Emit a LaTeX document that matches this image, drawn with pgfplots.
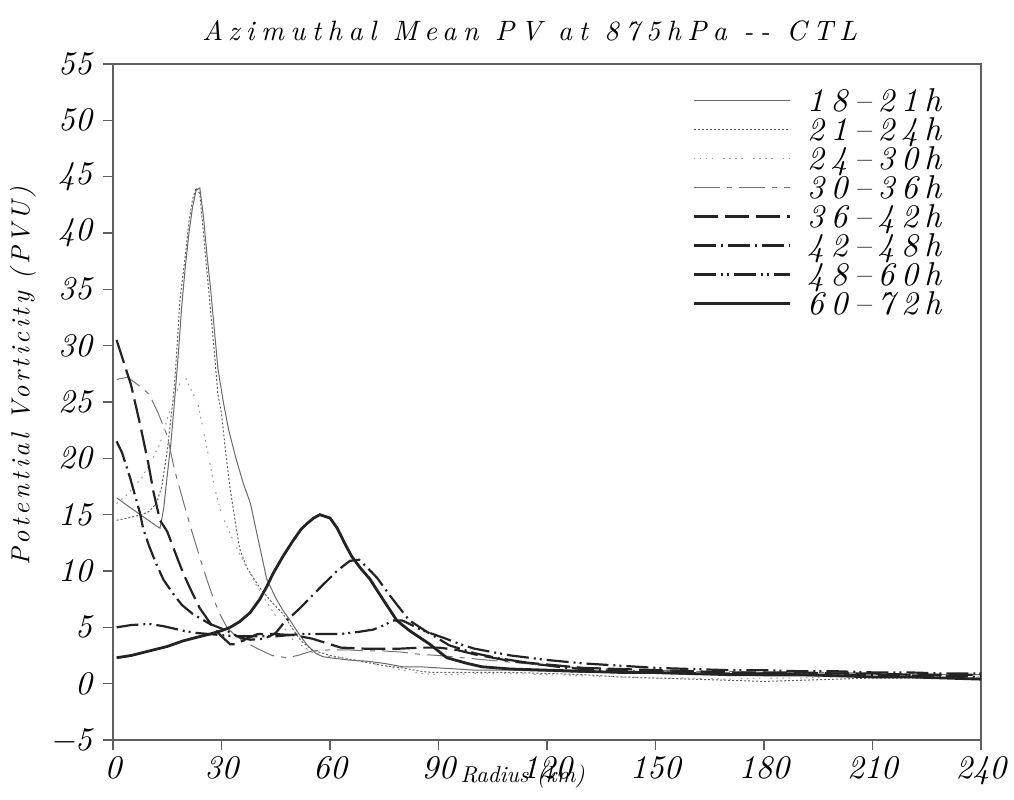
\documentclass[border=0pt]{standalone}
\usepackage{fontspec}
\usepackage{pgfplots}
\pgfplotsset{compat=1.18}
\newfontfamily\tfont{lmroman10-italic.otf}[LetterSpace=23]
\newfontfamily\yfont{lmroman10-italic.otf}[LetterSpace=14]
\newfontfamily\lfont{lmroman10-italic.otf}[LetterSpace=20]
\newfontfamily\nfont{lmroman10-italic.otf}
\definecolor{axgray}{RGB}{95,95,95}
\definecolor{cA}{RGB}{105,105,105}
\definecolor{cB}{RGB}{95,95,95}
\definecolor{cC}{RGB}{150,150,150}
\definecolor{cD}{RGB}{115,115,115}
\definecolor{cE}{RGB}{35,35,35}
\begin{document}
\begin{tikzpicture}
\begin{axis}[
  scale only axis, width=434pt, height=338pt,
  xmin=0, xmax=240, ymin=-5, ymax=55,
  xtick={0,30,...,240}, ytick={-5,0,...,55},
  yticklabels={−5,0,5,10,15,20,25,30,35,40,45,50,55},
  xtick pos=left, ytick pos=left,
  tick align=outside, major tick length=5pt,
  axis line style={axgray, line width=0.8pt},
  every tick/.style={axgray, line width=0.8pt},
  /pgf/number format/assume math mode=true,
  tick label style={font=\fontsize{16.5}{17}\selectfont\nfont},
  xticklabel style={yshift=0.5pt},
  yticklabel style={xshift=-2pt},
  title={Azimuthal Mean PV at 875hPa -{}- CTL},
  title style={font=\fontsize{14}{16}\selectfont\tfont, at={(axis description cs:0.48,1.032)}, anchor=center},
  xlabel={Radius (km)},
  xlabel style={font=\fontsize{11.5}{13}\selectfont\nfont, at={(axis description cs:0.472,-0.055)}, anchor=center},
  ylabel={Potential Vorticity (PVU)},
  ylabel style={font=\fontsize{13}{15}\selectfont\yfont, at={(axis description cs:-0.1037,0.538)}, anchor=center},
  legend image code/.code={\draw[#1] (0pt,0.5pt) -- (48pt,0.5pt);},
  legend style={draw=none, fill=none, inner sep=0pt, at={(axis description cs:0.667,0.963)}, anchor=north west,
    font=\fontsize{16.5}{17}\selectfont\lfont, row sep=2.5pt, column sep=8pt,
    nodes={inner sep=0pt, text height=11pt, text depth=1pt}},
  legend cell align=left,
]
\addplot[cA, line width=0.5pt] coordinates {
(1,16.5)(4,15.8)(8,14.9)(12,14.0)(13,13.8)(14,15.5)(15,18.5)(16,21.3)(17,25)(18,29)(19,33.5)(20,37)(21,40)(22,42.3)(23,43.8)(24,44)(25,41.5)(26,38)(27,35)(28,31.5)(29,28)(30.5,25)(32,22.5)(34,20)(36,17.8)(38,16)(40,13)(42.5,9.3)(45,7.6)(47,6.5)(49,5.6)(51,4.6)(53.5,3.5)(56,2.7)(58,2.4)(60,2.3)(65,2.1)(70,2.0)(75,1.8)(80,1.5)(85,1.5)(90,1.4)(95,1.3)(100,1.2)(110,1.2)(120,1.1)(130,1.0)(140,1.0)(150,0.9)(160,0.8)(170,0.8)(180,0.7)(190,0.7)(200,0.7)(210,0.6)(220,0.6)(230,0.5)(240,0.4)
};
\addlegendentry{18–21h}
\addplot[cB, line width=0.5pt, dash pattern=on 1pt off 1pt] coordinates {
(1,14.5)(4,14.7)(8,15)(10,15.3)(12,16)(13.5,17.5)(15,20.7)(16,23.5)(17,26.5)(18.5,34)(20,38)(21,41)(22,43)(23,44)(24,43.5)(25,40)(26,36.5)(27,33)(28,29.5)(29,25.7)(30,24)(31.2,20.4)(32.3,17.5)(33.5,15)(35,12)(37,10.3)(40.6,8.5)(44,7.2)(47,6.2)(50,4.7)(52,3.8)(55,3)(60,2.5)(65,2.2)(70,1.9)(75,1.6)(80,1.4)(85,1.1)(88,1.0)(95,1.0)(100,1.0)(110,1.0)(120,0.9)(130,0.8)(140,0.6)(150,0.5)(160,0.4)(170,0.3)(180,0.2)(190,0.3)(200,0.4)(210,0.5)(220,0.5)(230,0.5)(240,0.5)
};
\addlegendentry{21–24h}
\addplot[cC, line width=0.5pt, dash pattern=on 0.8pt off 2.2pt on 0.8pt off 2.2pt on 0.8pt off 2.2pt on 0.8pt off 5pt] coordinates {
(1,16)(4,16.8)(8,18.3)(11,20)(13,21.3)(15,23.5)(17,25.5)(19,27)(20,27.2)(21,26.5)(23.5,24.8)(26.3,20.4)(28,17.5)(30,15.1)(32.4,13.3)(35,11.5)(37,10.3)(40,8.5)(43,7)(46,5.5)(50,3.8)(55,2.8)(60,2.4)(65,2.2)(70,1.9)(75,1.6)(80,1.2)(85,0.9)(90,0.8)(95,0.8)(100,0.9)(110,0.9)(120,0.8)(130,0.7)(140,0.6)(150,0.5)(160,0.5)(170,0.4)(180,0.5)(190,0.5)(200,0.6)(210,0.6)(220,0.6)(230,0.6)(240,0.6)
};
\addlegendentry{24–30h}
\addplot[cD, line width=0.5pt, dash pattern=on 13pt off 3.5pt on 2.5pt off 3.5pt] coordinates {
(1,27)(4,27.2)(7,26.5)(10,25.7)(12.5,24)(15,22)(17,19)(19.4,16.2)(22,13.3)(24,11.2)(26,9.2)(27.7,7.6)(29.5,6.2)(31.5,5)(34,4.2)(36,3.8)(40,3.1)(44,2.5)(48,2.3)(51,2.5)(55,2.9)(60,3.0)(65,3.0)(70,2.9)(75,2.9)(80,2.8)(85,2.6)(90,2.5)(100,2.2)(110,1.9)(120,1.6)(130,1.4)(140,1.3)(150,1.2)(160,1.1)(170,1.1)(180,1.0)(190,1.0)(200,1.0)(210,0.9)(220,0.9)(230,0.8)(240,0.8)
};
\addlegendentry{30–36h}
\addplot[cE, line width=1.1pt, dash pattern=on 12pt off 3.5pt] coordinates {
(1,30.5)(3,28.5)(5,26.5)(7.5,23)(9.8,19.5)(11.2,17)(13,14.5)(15,13.5)(17,11.8)(19.4,9.8)(22,8)(24,6.7)(27.7,5)(30,4.2)(32.4,3.5)(34,3.5)(37,4.0)(40,4.4)(45,4.4)(50,4.3)(55,4.0)(60,3.5)(63,3.2)(70,3.1)(79,3.1)(85,3.2)(90,3.2)(95,3.0)(100,2.6)(110,2.0)(120,1.7)(130,1.4)(140,1.3)(150,1.2)(160,1.1)(170,1.0)(180,1.0)(190,1.0)(200,0.9)(210,0.9)(220,0.8)(230,0.8)(240,0.8)
};
\addlegendentry{36–42h}
\addplot[cE, line width=1.1pt, dash pattern=on 11pt off 2.5pt on 1pt off 2.5pt] coordinates {
(1,21.5)(2.5,20.5)(4.7,18.3)(7.5,15.1)(8.3,13.8)(10,12.2)(12,10.6)(14,9.2)(16.6,8)(19,7)(22,6.2)(26.8,5.3)(31.5,4.7)(35,4.1)(38,3.9)(42,4.0)(45,4.5)(47,5.3)(51.7,6.7)(57.2,8.5)(61.9,10)(65.5,10.9)(68,11)(70,10.4)(73,9.4)(76.6,7.8)(80,6.4)(82,5.6)(86.8,4.6)(93,3.4)(100,2.7)(106,2.3)(111.7,2.0)(118,1.7)(125.5,1.4)(135,1.2)(150,1.0)(165,0.9)(180,0.9)(195,0.8)(210,0.8)(225,0.7)(240,0.6)
};
\addlegendentry{42–48h}
\addplot[cE, line width=1.1pt, dash pattern=on 11pt off 2.5pt on 1pt off 2pt on 1pt off 2.5pt] coordinates {
(1,5.0)(5,5.2)(10,5.3)(14,5.1)(19.4,4.7)(23,4.5)(26.8,4.4)(30,4.3)(35,4.2)(40,4.2)(45,4.2)(51.7,4.4)(57,4.4)(62.7,4.4)(68,4.6)(72,4.8)(75,5.2)(77.4,5.6)(80,5.6)(82,5.3)(85,4.8)(88.5,4.4)(92,4.0)(96,3.5)(100,3.1)(105,2.8)(110,2.5)(120,2.1)(130,1.8)(140,1.6)(150,1.4)(160,1.3)(170,1.2)(180,1.2)(190,1.1)(200,1.1)(210,1.0)(220,1.0)(230,0.9)(240,0.9)
};
\addlegendentry{48–60h}
\addplot[cE, line width=1.4pt] coordinates {
(1,2.3)(5,2.5)(10,2.9)(15,3.3)(19.4,3.8)(23,4.1)(26.8,4.4)(30,4.7)(32.4,5.0)(35,5.5)(37.9,6.3)(40.6,7.5)(42.5,8.6)(44.3,9.8)(47,11.3)(49.8,12.7)(52,13.7)(53.6,14.2)(55.5,14.7)(57.2,15.0)(60,14.7)(62,13.8)(64,12.5)(66,11.3)(68.3,10.3)(71,9.3)(74.6,7.5)(78.5,5.6)(82,4.7)(87.6,3.5)(92.3,2.3)(97.9,1.8)(102,1.5)(110,1.3)(120,1.2)(130,1.1)(140,1.0)(150,1.0)(160,0.9)(170,0.8)(180,0.8)(190,0.8)(200,0.7)(210,0.6)(220,0.6)(230,0.5)(240,0.4)
};
\addlegendentry{60–72h}
\coordinate (BL) at (rel axis cs:0,0);
\coordinate (TR) at (rel axis cs:1,1);
\end{axis}
\pgfresetboundingbox
\path ([shift={(-56.5pt,-30pt)}]BL) rectangle ([shift={(16.5pt,32pt)}]TR);
\end{tikzpicture}
\end{document}
